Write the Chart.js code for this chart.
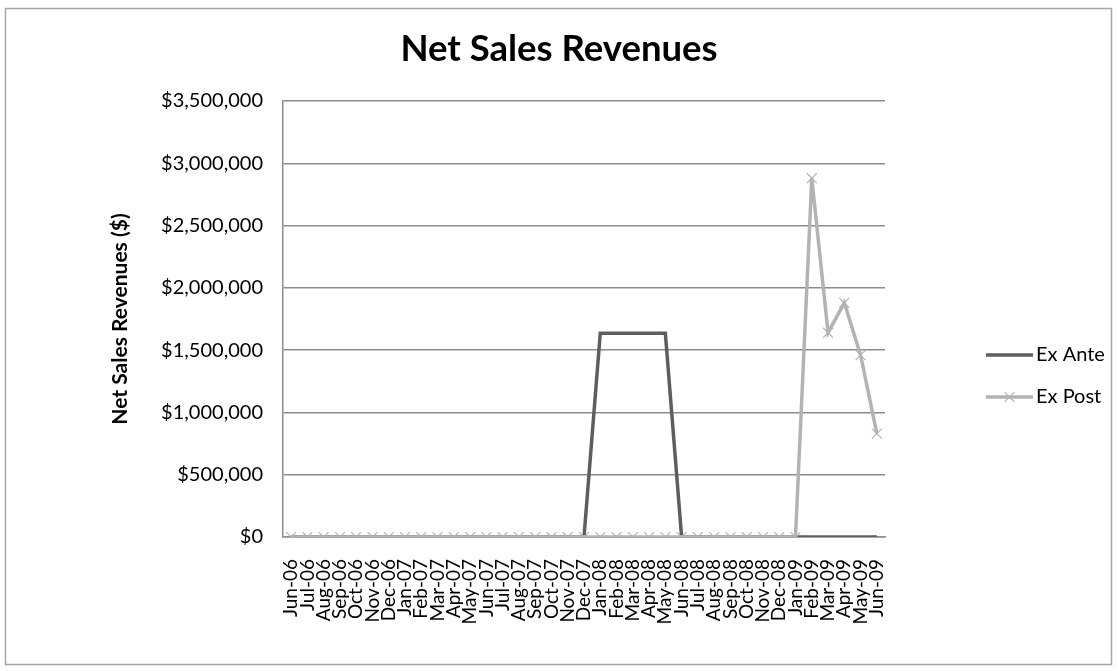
<!DOCTYPE html>
<html>
<head>
<meta charset="utf-8">
<title>Net Sales Revenues</title>
<script src="https://cdn.jsdelivr.net/npm/chart.js@4/dist/chart.umd.min.js"></script>
<style>
  html, body { margin: 0; padding: 0; background: #ffffff; }
  #wrap { width: 1118px; height: 671px; }
</style>
</head>
<body>
<div id="wrap"><canvas id="chart" width="1118" height="671"></canvas></div>
<script>
// Monthly categories, Jun-06 .. Jun-09
const months = [
  'Jun-06','Jul-06','Aug-06','Sep-06','Oct-06','Nov-06','Dec-06',
  'Jan-07','Feb-07','Mar-07','Apr-07','May-07','Jun-07','Jul-07','Aug-07','Sep-07','Oct-07','Nov-07','Dec-07',
  'Jan-08','Feb-08','Mar-08','Apr-08','May-08','Jun-08','Jul-08','Aug-08','Sep-08','Oct-08','Nov-08','Dec-08',
  'Jan-09','Feb-09','Mar-09','Apr-09','May-09','Jun-09'
];

// Net sales revenues ($)
const exAnte = [
  0,0,0,0,0,0,0,
  0,0,0,0,0,0,0,0,0,0,0,0,
  1635000,1635000,1635000,1635000,1635000,0,0,0,0,0,0,0,
  0,0,0,0,0,0
];
const exPost = [
  0,0,0,0,0,0,0,
  0,0,0,0,0,0,0,0,0,0,0,0,
  0,0,0,0,0,0,0,0,0,0,0,0,
  0,2880000,1640000,1880000,1460000,830000
];

const yMin = 0;
const yMax = 3500000;
const yStep = 500000;

const FONT = 'Lato, "Open Sans", sans-serif';
const anteColor = '#5e5e5e';
const postColor = '#b3b3b3';
const gridColor = '#8c8c8c';

// Outer chart border
const framePlugin = {
  id: 'frame',
  beforeDraw(chart) {
    const ctx = chart.ctx;
    ctx.save();
    ctx.fillStyle = '#ffffff';
    ctx.fillRect(0, 0, chart.width, chart.height);
    ctx.strokeStyle = '#a6a6a6';
    ctx.lineWidth = 1.5;
    ctx.strokeRect(5.5, 8.5, 1106, 656);
    ctx.restore();
  }
};

// Legend on the right: line sample (with marker) + series name
const sideLegend = {
  id: 'sideLegend',
  afterDraw(chart) {
    const ctx = chart.ctx;
    const x0 = 986, x1 = 1033, tx = 1036;
    const rows = [355, 397];
    ctx.save();
    chart.data.datasets.forEach((ds, i) => {
      const y = rows[i];
      ctx.strokeStyle = ds.borderColor;
      ctx.lineWidth = ds.borderWidth;
      ctx.beginPath();
      ctx.moveTo(x0, y);
      ctx.lineTo(x1, y);
      ctx.stroke();
      if (ds.pointRadius > 0) {
        ctx.lineWidth = ds.pointBorderWidth;
        Chart.helpers.drawPoint(ctx, {
          pointStyle: ds.pointStyle,
          radius: ds.pointRadius,
          borderWidth: ds.pointBorderWidth
        }, (x0 + x1) / 2, y);
      }
      ctx.fillStyle = '#000000';
      ctx.font = '20px ' + FONT;
      ctx.textBaseline = 'middle';
      ctx.textAlign = 'left';
      ctx.fillText(ds.label, tx, y);
    });
    ctx.restore();
  }
};

new Chart(document.getElementById('chart'), {
  type: 'line',
  data: {
    labels: months,
    datasets: [
      {
        label: 'Ex Ante',
        data: exAnte,
        borderColor: anteColor,
        backgroundColor: anteColor,
        borderWidth: 3.5,
        pointRadius: 0,
        pointHoverRadius: 0,
        tension: 0,
        order: 2
      },
      {
        label: 'Ex Post',
        data: exPost,
        borderColor: postColor,
        backgroundColor: postColor,
        borderWidth: 3.5,
        pointStyle: 'crossRot',
        pointRadius: 7,
        pointBorderColor: postColor,
        pointBorderWidth: 1.2,
        pointHoverRadius: 7,
        tension: 0,
        order: 1
      }
    ]
  },
  options: {
    responsive: false,
    animation: false,
    events: [],
    layout: { padding: { left: 0, right: 0, top: 0, bottom: 0 } },
    plugins: {
      legend: { display: false },
      tooltip: { enabled: false },
      title: {
        display: true,
        text: 'Net Sales Revenues',
        color: '#000000',
        font: { family: FONT, size: 36.5, weight: 'bold', lineHeight: 1.2 },
        padding: { top: 27.5, bottom: 29.7 }
      }
    },
    scales: {
      x: {
        type: 'category',
        offset: true,
        grid: { display: false, drawTicks: false },
        border: { display: true, color: gridColor, width: 1.5 },
        ticks: {
          autoSkip: false,
          maxRotation: 90,
          minRotation: 90,
          padding: 22,
          color: '#000000',
          font: { family: FONT, size: 19 }
        },
        afterFit(scale) { scale.height = 134; }
      },
      y: {
        min: yMin,
        max: yMax,
        grid: { color: gridColor, lineWidth: 1.5, drawTicks: false },
        border: { display: true, color: gridColor, width: 1.5 },
        ticks: {
          stepSize: yStep,
          padding: 20,
          color: '#000000',
          font: { family: FONT, size: 20 },
          callback: (v) => '$' + Number(v).toLocaleString('en-US')
        },
        title: {
          display: true,
          text: 'Net Sales Revenues ($)',
          color: '#000000',
          font: { family: FONT, size: 21, weight: 'bold', lineHeight: 1.2 },
          padding: { top: 108, bottom: 0 }
        },
        afterFit(scale) { scale.width = 283; }
      },
      // empty band on the right that holds the legend
      legendBand: {
        type: 'linear',
        position: 'right',
        display: true,
        grid: { display: false, drawTicks: false },
        border: { display: false },
        ticks: { display: false },
        afterFit(scale) { scale.width = 233; }
      }
    }
  },
  plugins: [framePlugin, sideLegend]
});
</script>
</body>
</html>
